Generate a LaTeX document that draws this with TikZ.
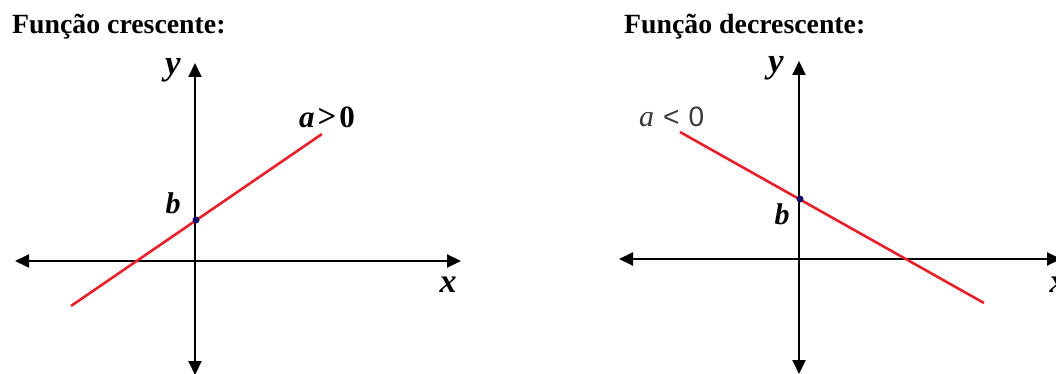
\documentclass[tikz,border=0pt]{standalone}
\usepackage{fontspec}
\setmainfont{Liberation Serif}
\newfontfamily\lsans{Liberation Sans}
\usetikzlibrary{arrows.meta}
\definecolor{lred}{HTML}{E8202A}
\definecolor{dotblue}{HTML}{10106A}
\definecolor{lgray}{HTML}{3A3A3A}
\begin{document}
\begin{tikzpicture}[x=1pt,y=-1pt,
  axis/.style={line width=2pt,{Triangle[length=14pt,width=13pt]}-{Triangle[length=14pt,width=13pt]}},
  fline/.style={line width=2.6pt,lred},
  ptdot/.style={circle,fill=dotblue,inner sep=0pt,minimum size=7pt},
  ttl/.style={anchor=base west,inner sep=0pt,font=\fontsize{27.8}{30}\selectfont\bfseries},
  ylbl/.style={inner sep=0pt,font=\fontsize{35}{36}\selectfont\bfseries\itshape},
  lbl/.style={inner sep=0pt,font=\fontsize{30}{32}\selectfont\bfseries\itshape},
  xlbl/.style={inner sep=0pt,font=\fontsize{34}{36}\selectfont\bfseries\itshape}]
\useasboundingbox (0,0) rectangle (1056,374);
\clip (0,0) rectangle (1056,374);
\fill[white] (0,0) rectangle (1056,374);
% ---------- left panel ----------
\node[ttl] (t1) at (12,33.5) {Função crescente:};
\coordinate (xl1) at (15,261);
\coordinate (xr1) at (461,261);
\coordinate (yt1) at (195,63);
\coordinate (yb1) at (195,375);
\draw[axis] (xl1) -- (xr1);
\draw[axis] (yb1) -- (yt1);
\coordinate (ls1) at (71,306);
\coordinate (le1) at (322,134);
\draw[fline] (ls1) -- (le1);
\node[ptdot] (b1) at (196,220) {};
\node[ylbl] (ylab1) at (173,70) {y};
\node[lbl] (blab1) at (173,203) {b};
\node[xlbl] (xlab1) at (448,285) {x};
\node[inner sep=0pt,anchor=base,font=\fontsize{31}{32}\selectfont\bfseries] (a1) at (327,128) {\textit{a}\hspace{3pt}\raisebox{0.5pt}{\fontsize{33}{34}\selectfont\textgreater}\hspace{3pt}0};
% ---------- right panel ----------
\node[ttl] (t2) at (624,33.5) {Função decrescente:};
\coordinate (xl2) at (619,259);
\coordinate (xr2) at (1061,259);
\coordinate (yt2) at (799,61);
\coordinate (yb2) at (799,374);
\draw[axis] (xl2) -- (xr2);
\draw[axis] (yb2) -- (yt2);
\coordinate (ls2) at (680,132);
\coordinate (le2) at (984,303);
\draw[fline] (ls2) -- (le2);
\node[ptdot] (b2) at (800,199) {};
\node[ylbl] (ylab2) at (776,68) {y};
\node[lbl] (blab2) at (782,214) {b};
\node[xlbl] (xlab2) at (1058,285) {x};
\node[inner sep=0pt,anchor=base west,text=lgray] (a2) at (639,127) {\fontsize{30}{32}\selectfont\textit{a}\hspace{9pt}{\lsans\fontsize{28}{30}\selectfont <\hspace{9pt}0}};
\end{tikzpicture}
\end{document}
